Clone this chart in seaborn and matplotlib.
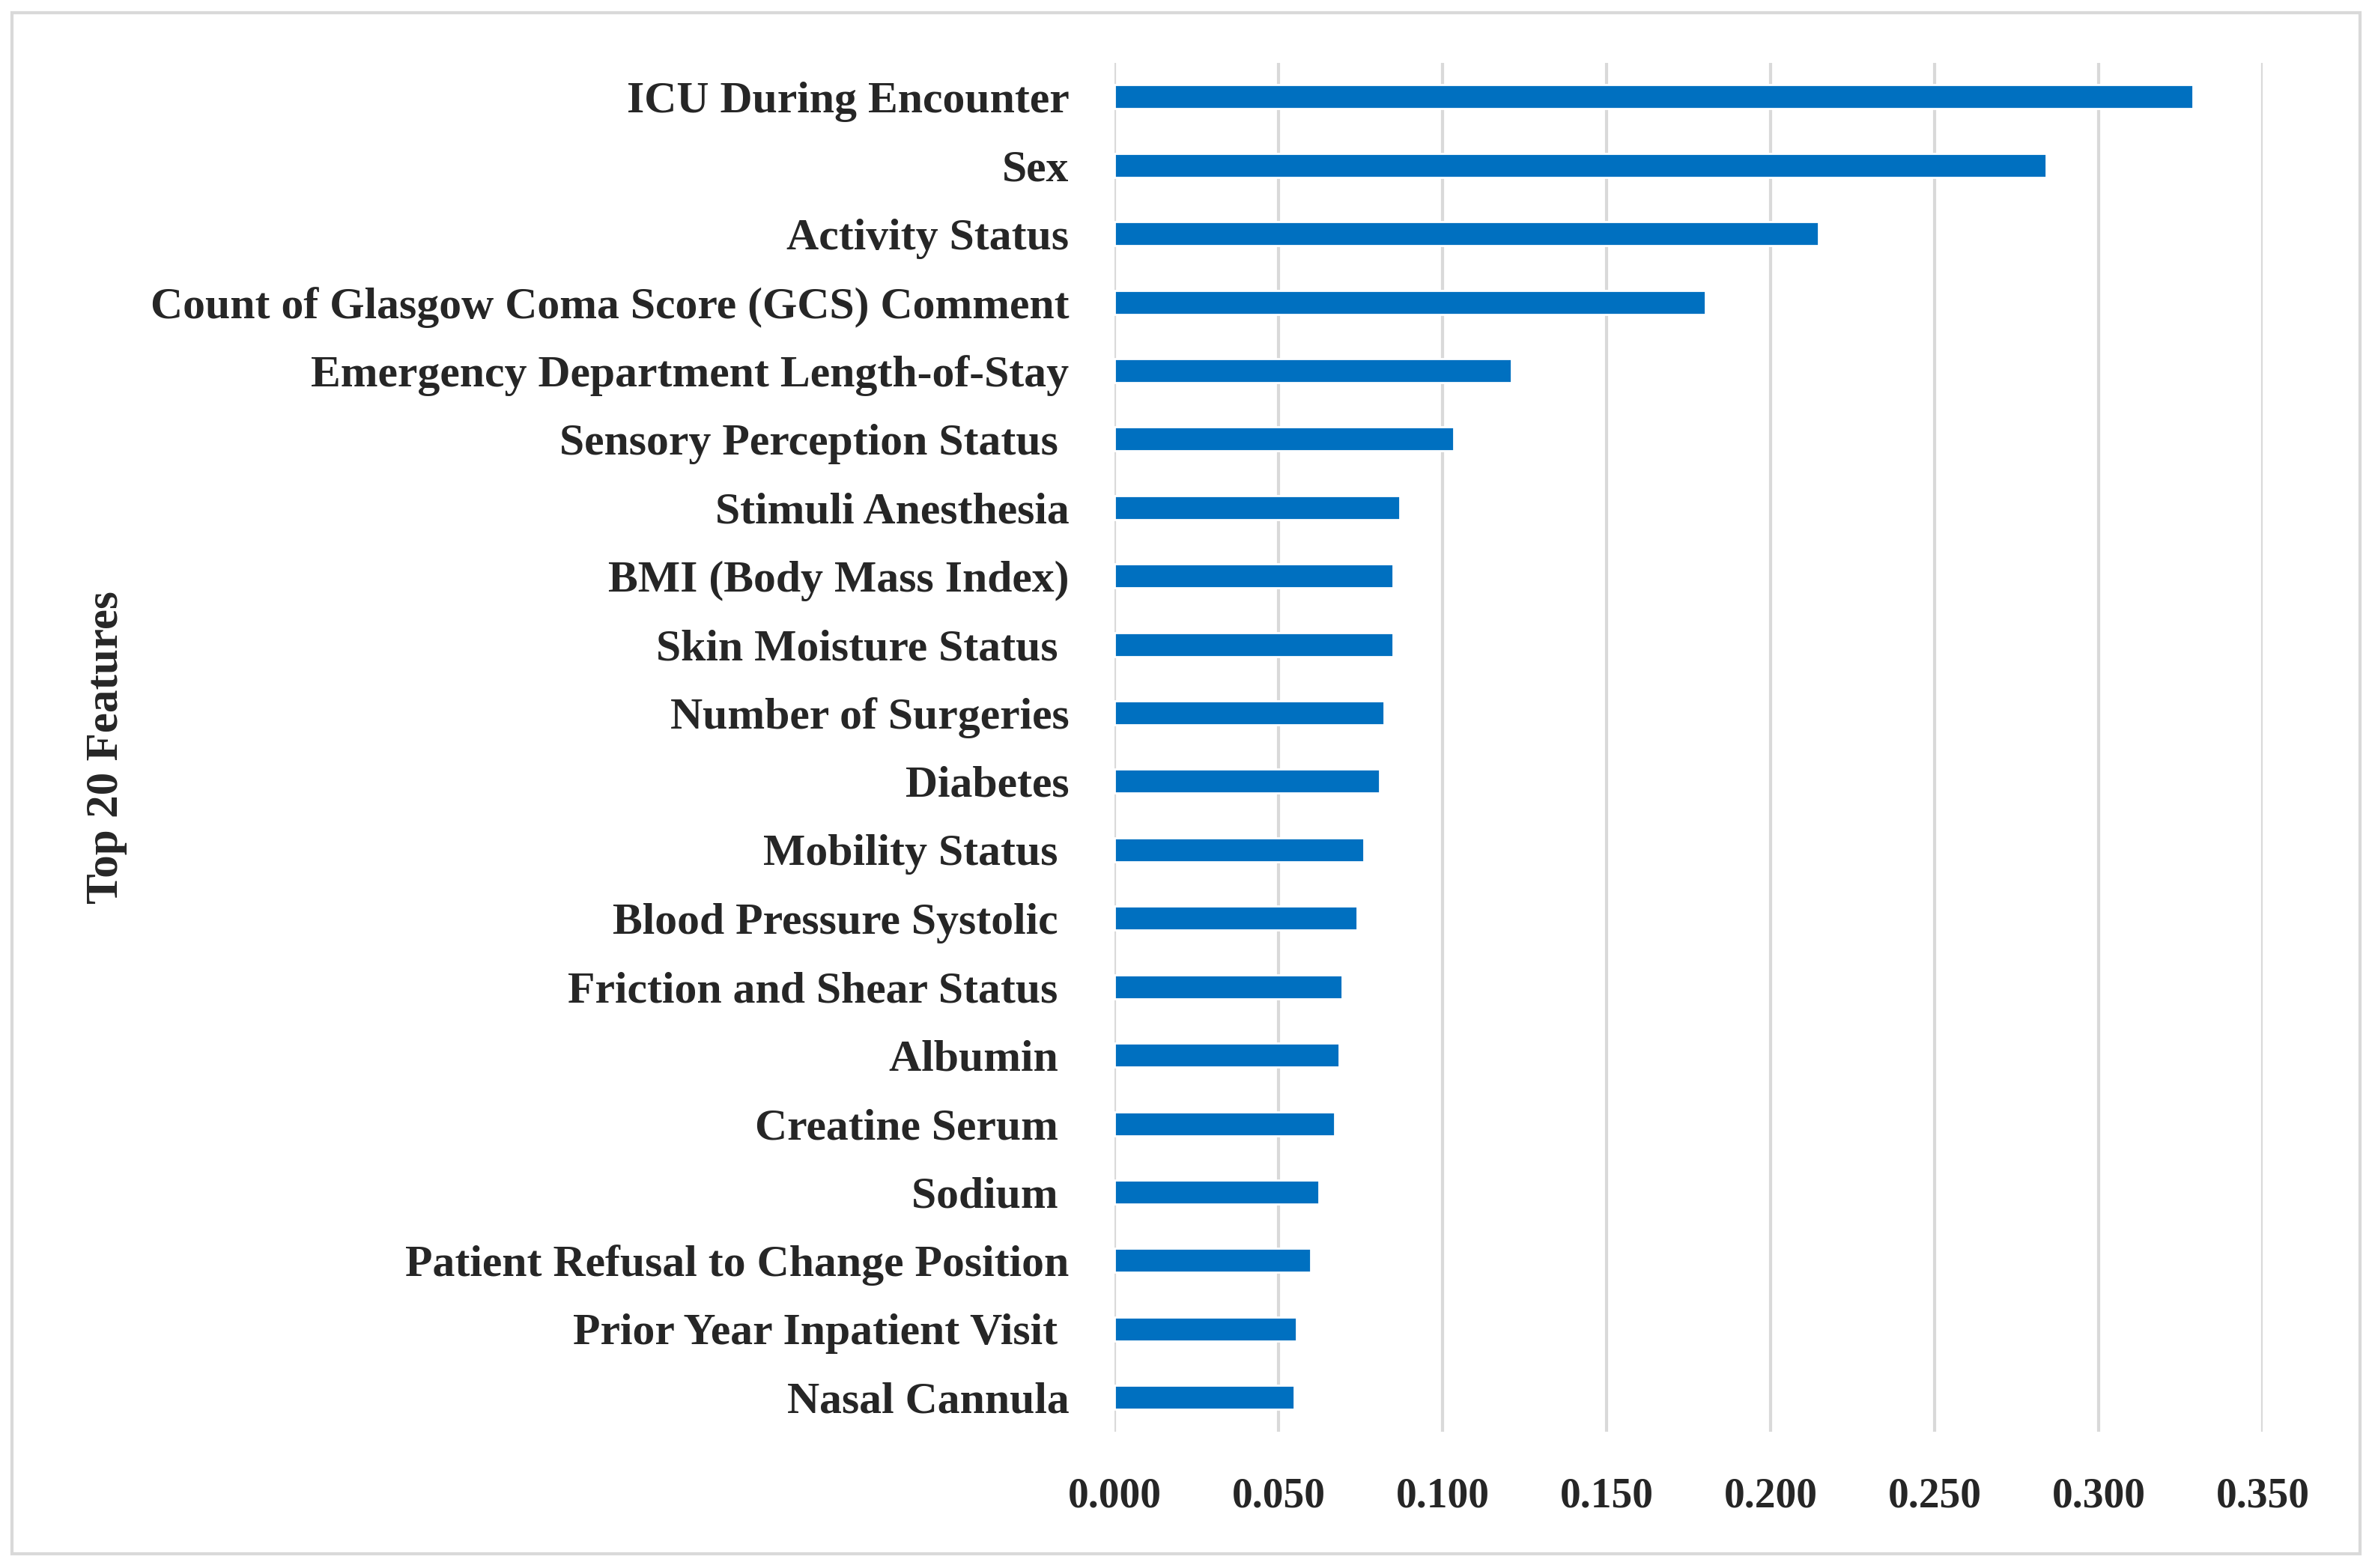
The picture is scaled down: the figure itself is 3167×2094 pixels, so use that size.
import pandas as pd
import seaborn as sns
import matplotlib.pyplot as plt
from matplotlib.patches import Rectangle

# feature importances, top 20
features = [
    'ICU During Encounter',
    'Sex',
    'Activity Status',
    'Count of Glasgow Coma Score (GCS) Comment',
    'Emergency Department Length-of-Stay',
    'Sensory Perception Status ',
    'Stimuli Anesthesia',
    'BMI (Body Mass Index)',
    'Skin Moisture Status ',
    'Number of Surgeries',
    'Diabetes',
    'Mobility Status ',
    'Blood Pressure Systolic ',
    'Friction and Shear Status ',
    'Albumin ',
    'Creatine Serum ',
    'Sodium ',
    'Patient Refusal to Change Position',
    'Prior Year Inpatient Visit ',
    'Nasal Cannula',
]
importance = [0.3288, 0.2840, 0.2145, 0.1801, 0.1210, 0.1033, 0.0869, 0.0849,
              0.0849, 0.0821, 0.0807, 0.0760, 0.0739, 0.0692, 0.0685, 0.0671,
              0.0623, 0.0596, 0.0554, 0.0548]
xticks = [0.0, 0.05, 0.10, 0.15, 0.20, 0.25, 0.30, 0.35]

df = pd.DataFrame({'Feature': features, 'Importance': importance})

sns.set_style('white')
plt.rcParams['font.family'] = ['Liberation Serif', 'DejaVu Serif']
plt.rcParams['font.weight'] = 'bold'

fig = plt.figure(figsize=(15.835, 10.47), dpi=200)
ax = fig.add_axes([0.470, 0.087, 0.484, 0.873])

sns.barplot(data=df, y='Feature', x='Importance', orient='h',
            color='#0070C0', width=0.35, saturation=1, ax=ax)

ax.set_xlim(0, 0.35)
ax.set_ylim(len(features) - 0.5, -0.5)
ax.set_xticks(xticks)
ax.set_xticklabels([f'{t:.3f}' for t in xticks], fontsize=20, fontweight='bold')
ax.tick_params(axis='x', length=0, pad=22)
ax.tick_params(axis='y', length=0, pad=22, labelsize=21.5)
for lbl in ax.get_yticklabels():
    lbl.set_fontweight('bold')

ax.grid(axis='x', color='#D9D9D9', linewidth=1.5)
ax.set_axisbelow(True)
for s in ax.spines.values():
    s.set_visible(False)

ax.set_xlabel('')
ax.set_ylabel('Top 20 Features', fontsize=22, fontweight='bold', labelpad=0)
ax.yaxis.set_label_coords(-0.86, 0.5)

# light frame around the whole chart
fig.patches.append(Rectangle((0.005, 0.009), 0.990, 0.983, transform=fig.transFigure,
                             fill=False, edgecolor='#D9D9D9', linewidth=1.5))

fig.savefig('out.png', dpi=200, facecolor='white')
